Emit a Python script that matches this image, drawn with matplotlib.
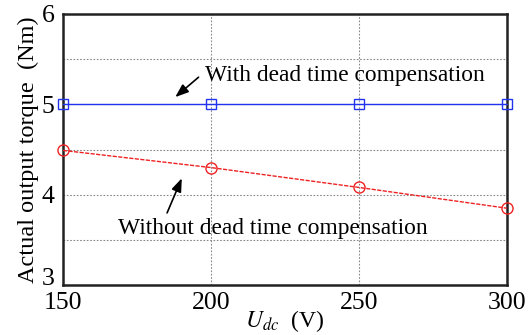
import matplotlib
matplotlib.use("Agg")
import matplotlib.pyplot as plt
from matplotlib.ticker import FixedFormatter, FixedLocator, MultipleLocator

plt.rcParams['font.family'] = ['Liberation Serif', 'DejaVu Serif']
plt.rcParams['mathtext.fontset'] = 'stix'

# DC bus voltage (V) and measured torque (Nm)
udc = [150, 200, 250, 300]
torque_comp = [5.0, 5.0, 5.0, 5.0]
torque_nocomp = [4.49, 4.30, 4.08, 3.85]

fig = plt.figure(figsize=(5.31, 3.35), dpi=100)
ax = fig.add_axes([63 / 531, 50 / 335, 444 / 531, 271 / 335])

ax.plot(udc, torque_comp, color='#2233ee', linewidth=1.0, marker='s', markersize=7,
        markerfacecolor='none', markeredgecolor='#2233ee', clip_on=False, zorder=3)
ax.plot(udc, torque_nocomp, color='#ee2222', linewidth=1.0, linestyle=(0, (3, 1)),
        marker='o', markersize=8, markerfacecolor='none', markeredgecolor='#ee2222',
        clip_on=False, zorder=3)

ax.set_xlim(150, 300)
ax.set_ylim(3, 6)
ax.xaxis.set_major_locator(MultipleLocator(50))
ax.yaxis.set_major_locator(FixedLocator([3, 3.5, 4, 4.5, 5, 5.5, 6]))
ax.yaxis.set_major_formatter(FixedFormatter(['3', '', '4', '', '5', '', '6']))
ax.tick_params(direction='in', length=0, labelsize=18.5)
ax.tick_params(axis='x', pad=5)
ax.tick_params(axis='y', pad=6)
ax.grid(True, color='#888888', linestyle=(0, (1.5, 1.5)), linewidth=0.8)
for s in ax.spines.values():
    s.set_linewidth(1.8)
    s.set_color('#222222')

# lift the bottom y label a little so it clears the "150"
fig.canvas.draw()
ax.get_yticklabels()[0].set_va('baseline')

ax.set_ylabel('Actual output torque  (Nm)', fontsize=17.5, labelpad=2)
ax.set_xlabel(r'$U_{dc}$  (V)', fontsize=17)
ax.xaxis.set_label_coords(0.5, -0.085)

ax.annotate('', xy=(187.2, 5.06), xytext=(196.5, 5.32),
            arrowprops=dict(arrowstyle='-|>,head_length=0.8,head_width=0.3', color='black', lw=1.2))
ax.text(198, 5.32, 'With dead time compensation', fontsize=16.8, va='center', ha='left')

ax.annotate('', xy=(190.5, 4.21), xytext=(184.8, 3.77),
            arrowprops=dict(arrowstyle='-|>,head_length=0.8,head_width=0.3', color='black', lw=1.2))
ax.text(168.6, 3.63, 'Without dead time compensation', fontsize=16.8, va='center', ha='left')

fig.savefig('out.png', dpi=100)
